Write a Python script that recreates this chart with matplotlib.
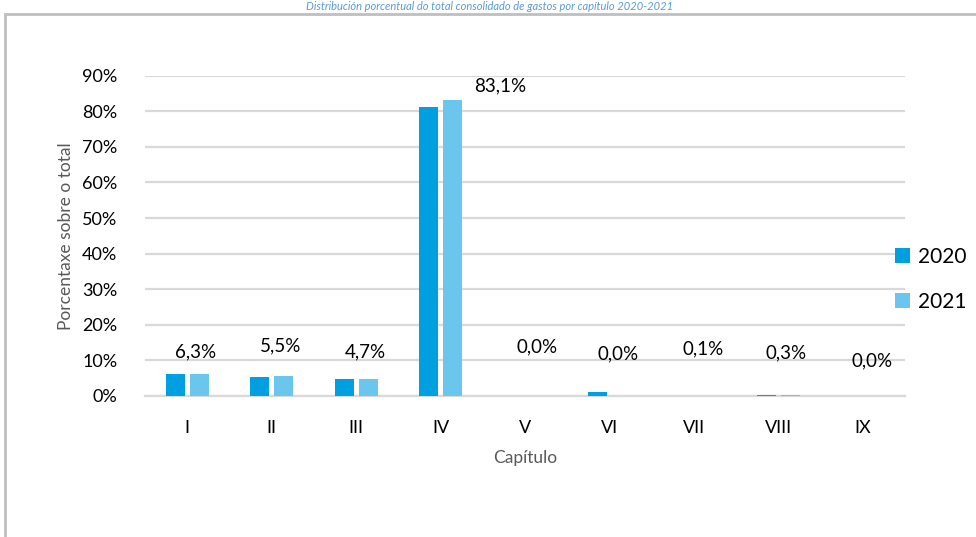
#!/usr/bin/env python3
"""Gastos consolidados por capítulo, 2020 vs 2021 (porcentaxe sobre o total)."""

import matplotlib

matplotlib.use("Agg")
import matplotlib.pyplot as plt
import numpy as np
from matplotlib.patches import Rectangle
from matplotlib.ticker import FuncFormatter, MultipleLocator

chapters = ["I", "II", "III", "IV", "V", "VI", "VII", "VIII", "IX"]
years = ["2020", "2021"]
share_2020 = [6.2, 5.4, 4.9, 81.3, 0.0, 1.1, 0.0, 0.3, 0.0]
share_2021 = [6.3, 5.5, 4.7, 83.1, 0.0, 0.0, 0.1, 0.3, 0.0]
label_text = ["6,3%", "5,5%", "4,7%", "83,1%", "0,0%", "0,0%", "0,1%", "0,3%", "0,0%"]

# where Excel left the data labels (nudges from the 2021 value, in % points / category units)
label_dy = [6.1, 8.5, 7.7, 4.0, 13.8, 11.8, 13.1, 11.8, 9.8]
label_dx = [0.10, 0.11, 0.11, 0.71, 0.14, 0.10, 0.11, 0.09, 0.11]

C2020 = "#009fe0"
C2021 = "#6bc6ee"
GRID = "#d9d9d9"
GREY_TXT = "#595959"

plt.rcParams["font.family"] = ["Lato", "DejaVu Sans"]

fig = plt.figure(figsize=(9.76, 5.37), dpi=100)
W, H = 976, 537

# chart area frame (only top and left edges show in the crop)
fig.patches.append(Rectangle((5 / W, -0.1), 1.2, 1 - 14 / H + 0.1, transform=fig.transFigure,
                             fill=False, edgecolor="#bfbfbf", linewidth=2.0))
fig.text(490 / W, 1 - 10 / H, "Distribución porcentual do total consolidado de gastos por capítulo 2020-2021",
         ha="center", va="baseline", fontsize=8, style="italic", color="#5b9bd5")

ax = fig.add_axes([145 / W, 1 - 396 / H, 760 / W, (396 - 75.7) / H])
x = np.arange(len(chapters))
bw = 0.225
ax.bar(x - 0.142, share_2020, width=bw, color=C2020, label=years[0], zorder=3, linewidth=0)
ax.bar(x + 0.142, share_2021, width=bw, color=C2021, label=years[1], zorder=3, linewidth=0)

for i, t in enumerate(label_text):
    ax.text(x[i] + label_dx[i], share_2021[i] + label_dy[i], t, ha="center", va="center",
            fontsize=13.5, color="#000000", zorder=4)

ax.set_xlim(-0.5, len(chapters) - 0.5)
ax.set_ylim(0, 90)
ax.yaxis.set_major_locator(MultipleLocator(10))
ax.yaxis.set_major_formatter(FuncFormatter(lambda v, _: f"{v:.0f}%"))
ax.set_xticks(x)
ax.set_xticklabels(chapters)
ax.tick_params(axis="both", length=0, labelsize=13, colors="#000000")
ax.tick_params(axis="x", pad=17)
ax.tick_params(axis="y", pad=20)
ax.grid(axis="y", color=GRID, linewidth=1.6, zorder=0)
for s in ["top", "right", "left"]:
    ax.spines[s].set_visible(False)
ax.spines["bottom"].set_color(GRID)
ax.spines["bottom"].set_linewidth(1.6)

ax.set_ylabel("Porcentaxe sobre o total", fontsize=12.5, color=GREY_TXT, labelpad=6)
ax.set_xlabel("Capítulo", fontsize=12.5, color=GREY_TXT, labelpad=10)

ax.legend(loc="center left", bbox_to_anchor=(0.962, 0.365), frameon=False, fontsize=15,
          handlelength=0.75, handleheight=0.75, handletextpad=0.35, labelspacing=1.2)

fig.savefig("out.png", dpi=100)
